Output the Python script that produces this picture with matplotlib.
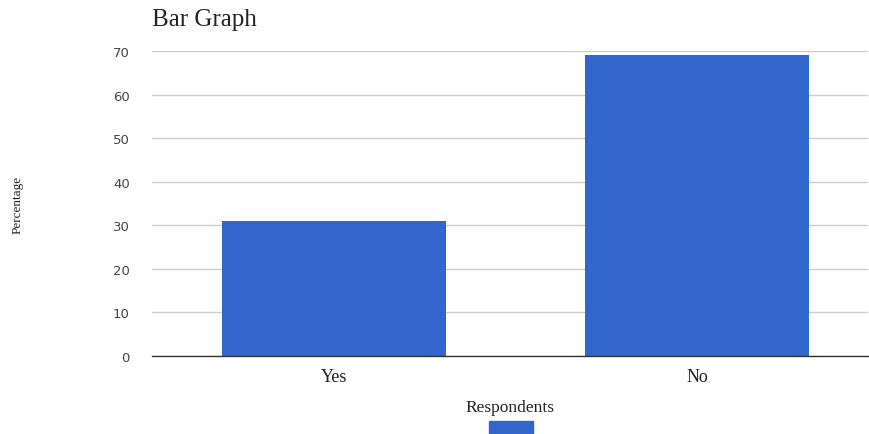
import matplotlib
matplotlib.use("Agg")
from matplotlib import pyplot as plt
from matplotlib.patches import Patch

# data
categories = ["Yes", "No"]
percentages = [31, 69]
y_ticks = [0, 10, 20, 30, 40, 50, 60, 70]

bar_color = "#3366cc"
serif = "Liberation Serif"

fig = plt.figure(figsize=(8.69, 4.35), dpi=100)
ax = fig.add_axes([152 / 869, 1 - 357 / 435, 716 / 869, 305 / 435])

x = list(range(len(categories)))
ax.bar(x, percentages, width=0.617, color=bar_color, zorder=3)

ax.set_xlim(-0.501, 1.471)
ax.set_ylim(0, 70)
ax.set_yticks(y_ticks)
ax.set_xticks(x)
ax.set_xticklabels(categories, fontfamily=serif, fontsize=13, color="#222222")
for lab in ax.get_yticklabels():
    lab.set_fontfamily("DejaVu Sans")
    lab.set_fontsize(9.5)
    lab.set_color("#444444")

ax.tick_params(axis="both", length=0)
ax.tick_params(axis="y", pad=16)
ax.tick_params(axis="x", pad=9)
ax.grid(axis="y", color="#cccccc", linewidth=1, zorder=0)
for side in ["top", "right", "left"]:
    ax.spines[side].set_visible(False)
ax.spines["bottom"].set_color("#333333")
ax.spines["bottom"].set_linewidth(1)
ax.spines["bottom"].set_zorder(4)

ax.set_xlabel("Respondents", fontfamily=serif, fontsize=12.5, color="#222222", labelpad=10)
fig.text(18 / 869, 1 - 205 / 435, "Percentage", rotation=90, ha="center", va="center",
         fontfamily=serif, fontsize=9.5, color="#222222")
fig.text(152 / 869, 1 - 20 / 435, "Bar Graph", ha="left", va="center",
         fontfamily=serif, fontsize=18, color="#222222")

# legend swatch, cut off by the bottom edge as in the reference
fig.legend(handles=[Patch(color=bar_color)], labels=[""], loc="upper center",
           bbox_to_anchor=(511 / 869, 1 - 415 / 435), frameon=False,
           borderpad=0, handlelength=3.1, handleheight=2.0, handletextpad=0,
           fontsize=10)

fig.savefig("out.png", dpi=100, facecolor="white")
